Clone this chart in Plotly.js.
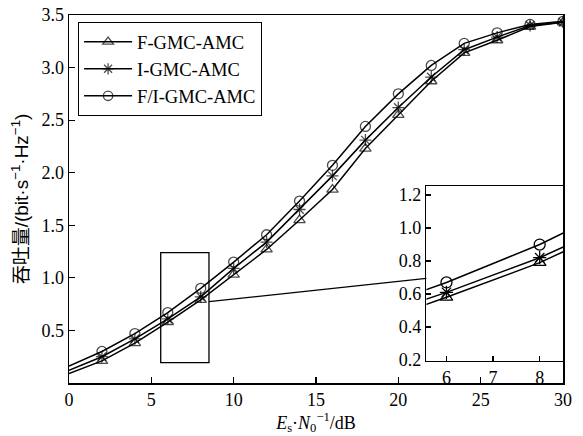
<!DOCTYPE html>
<html>
<head>
<meta charset="utf-8">
<script src="https://cdn.plot.ly/plotly-3.0.1.min.js"></script>
<style>html,body{margin:0;padding:0;background:#fff;}#chart{width:583px;height:436px;}</style>
</head>
<body>
<div id="chart"></div>
<script>
// Data
var snr = [0, 2, 4, 6, 8, 10, 12, 14, 16, 18, 20, 22, 24, 26, 28, 30];
var fGmc = [0.09, 0.21, 0.38, 0.58, 0.79, 1.03, 1.27, 1.55, 1.84, 2.23, 2.55, 2.87, 3.14, 3.26, 3.39, 3.43];
var iGmc = [0.12, 0.25, 0.42, 0.61, 0.82, 1.09, 1.34, 1.65, 1.97, 2.31, 2.62, 2.91, 3.17, 3.29, 3.40, 3.43];
var fiGmc = [0.16, 0.30, 0.47, 0.67, 0.90, 1.15, 1.41, 1.73, 2.07, 2.44, 2.75, 3.02, 3.23, 3.33, 3.41, 3.44];
var seriesNames = ['F-GMC-AMC', 'I-GMC-AMC', 'F/I-GMC-AMC'];
var xTickVals = [0, 5, 10, 15, 20, 25, 30];
var yTickVals = [0.5, 1.0, 1.5, 2.0, 2.5, 3.0, 3.5];
var insetXTicks = [6, 7, 8];
var insetYTicks = [0.2, 0.4, 0.6, 0.8, 1.0, 1.2];

var insetX = [5.57, 8.5];
var insetY = [0.194, 1.255];

var serif = 'Liberation Serif, Times New Roman, Noto Sans CJK SC, serif';
var symbols = ['triangle-up-open', 'asterisk-open', 'circle-open'];
var sizes = [10, 10, 10];
var allY = [fGmc, iGmc, fiGmc];

var data = [];
for (var i = 0; i < 3; i++) {
  var ms = snr.map(function (v) { return v === 0 ? 0 : sizes[i]; });
  data.push({
    x: snr, y: allY[i], name: seriesNames[i], type: 'scatter', mode: 'lines+markers',
    xaxis: 'x', yaxis: 'y',
    line: {color: '#000', width: 1.5},
    marker: {symbol: symbols[i], size: ms, color: '#000', line: {color: '#000', width: 1.3}}
  });
}
for (var j = 0; j < 3; j++) {
  data.push({
    x: snr, y: allY[j], name: seriesNames[j], type: 'scatter', mode: 'lines+markers',
    xaxis: 'x2', yaxis: 'y2', showlegend: false, cliponaxis: true,
    line: {color: '#000', width: 1.5},
    marker: {symbol: symbols[j], size: 11, color: '#000', line: {color: '#000', width: 1.3}}
  });
}

var tickFont = {family: serif, size: 18, color: '#000'};

var layout = {
  width: 583, height: 436,
  margin: {l: 69, r: 20, t: 15, b: 53},
  paper_bgcolor: '#fff', plot_bgcolor: '#fff',
  showlegend: true,
  legend: {
    x: 0.018, y: 0.981, xanchor: 'left', yanchor: 'top',
    bgcolor: '#fff', bordercolor: '#000', borderwidth: 1.2,
    font: {family: serif, size: 18.5, color: '#000'},
    itemwidth: 48,
    tracegroupgap: 0
  },
  xaxis: {
    domain: [0, 1], range: [0, 30], tickvals: xTickVals,
    ticks: 'inside', ticklen: 6, tickwidth: 1.2, tickcolor: '#000',
    showline: true, mirror: true, linecolor: '#000', linewidth: 1.5,
    showgrid: false, zeroline: false, tickfont: tickFont,
    title: {text: '<i>E</i><sub>s</sub>·<i>N</i><sub>0</sub><sup>−1</sup>/dB', font: {family: serif, size: 18, color: '#000'}, standoff: 4}
  },
  yaxis: {
    domain: [0, 1], range: [0, 3.5], tickvals: yTickVals, ticktext: yTickVals.map(function (v) { return v.toFixed(1); }),
    ticks: 'inside', ticklen: 6, tickwidth: 1.2, tickcolor: '#000',
    showline: true, mirror: true, linecolor: '#000', linewidth: 1.5,
    showgrid: false, zeroline: false, tickfont: tickFont,
    title: {text: '吞吐量/(bit·s<sup>−1</sup>·Hz<sup>−1</sup>)', font: {family: 'Liberation Sans, Noto Sans CJK SC, sans-serif', size: 19, color: '#000'}, standoff: 8}
  },
  xaxis2: {
    domain: [0.7235, 1.0], range: insetX, anchor: 'y2', tickvals: insetXTicks,
    ticks: 'inside', ticklen: 5, tickwidth: 1.2, tickcolor: '#000',
    showline: true, mirror: true, linecolor: '#000', linewidth: 1.5,
    showgrid: false, zeroline: false, tickfont: tickFont
  },
  yaxis2: {
    domain: [0.06, 0.5353], range: insetY, anchor: 'x2', tickvals: insetYTicks,
    ticktext: insetYTicks.map(function (v) { return v.toFixed(1); }),
    ticks: 'inside', ticklen: 5, tickwidth: 1.2, tickcolor: '#000',
    showline: true, mirror: true, linecolor: '#000', linewidth: 1.5,
    showgrid: false, zeroline: false, tickfont: tickFont
  },
  shapes: [
    {type: 'rect', xref: 'x', yref: 'y', x0: insetX[0], x1: insetX[1], y0: 0.193, y1: 1.24,
     line: {color: '#000', width: 1.3}, fillcolor: 'rgba(0,0,0,0)'},
    {type: 'line', xref: 'x', yref: 'y', x0: insetX[1], y0: 0.774, x1: 21.7, y1: 0.996,
     line: {color: '#000', width: 1.3}}
  ]
};

Plotly.newPlot('chart', data, layout, {displayModeBar: false, staticPlot: true});
</script>
</body>
</html>
